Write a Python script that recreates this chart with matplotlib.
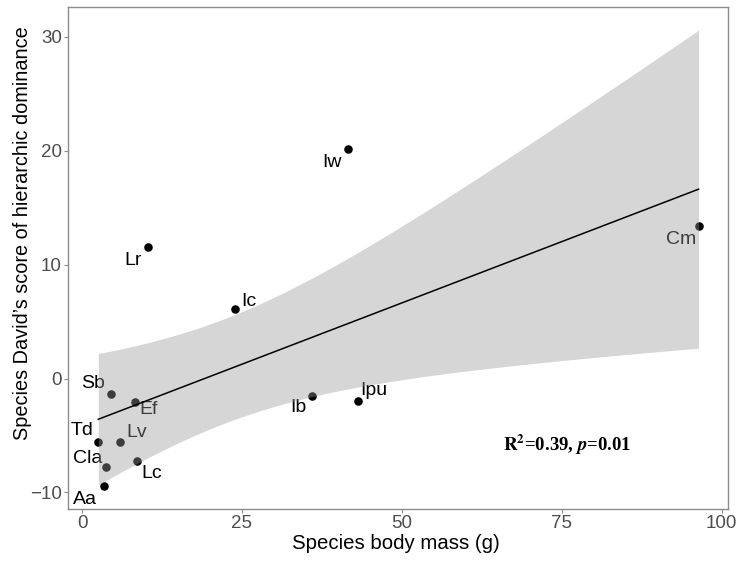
import numpy as np
import matplotlib
matplotlib.use("Agg")
import matplotlib.pyplot as plt

plt.rcParams["font.family"] = ["Liberation Sans", "DejaVu Sans"]

# DATA
species = ["Aa", "Cla", "Td", "Lv", "Lc", "Sb", "Ef", "Lr", "Ic", "Ib", "Ipu", "Iw", "Cm"]
body_mass = [3.5, 3.75, 2.55, 6.0, 8.6, 4.5, 8.3, 10.3, 23.97, 36.0, 43.1, 41.6, 96.4]
david_score = [-9.4, -7.8, -5.6, -5.6, -7.2, -1.4, -2.1, 11.5, 6.07, -1.5, -2.0, 20.1, 13.4]
x_ticks = [0, 25, 50, 75, 100]
y_ticks = [-10, 0, 10, 20, 30]
stat_label = r"$\mathbf{R^2}$=0.39, $\boldsymbol{p}$=0.01"

# label offsets in pixels (dx right, dy up), like ggrepel placed them
label_offsets = {
    "Aa": (-19, -14), "Cla": (-18, 9), "Td": (-16, 12), "Lv": (16, 10),
    "Lc": (15, -13), "Sb": (-18, 11), "Ef": (13, -7), "Lr": (-15, -13),
    "Ic": (13, 8), "Ib": (-14, -12), "Ipu": (16, 11), "Iw": (-16, -13),
    "Cm": (-17, -14),
}

# linear fit with 95% band (t, df = 11)
x = np.array(body_mass)
y = np.array(david_score)
n = len(x)
slope, intercept = np.polyfit(x, y, 1)
resid = y - (slope * x + intercept)
s = np.sqrt(np.sum(resid ** 2) / (n - 2))
sxx = np.sum((x - x.mean()) ** 2)
t_crit = 2.201
xs = np.linspace(x.min(), x.max(), 120)
fit = slope * xs + intercept
se = s * np.sqrt(1 / n + (xs - x.mean()) ** 2 / sxx)

fig = plt.figure(figsize=(7.36, 5.64), dpi=100)
ax = fig.add_axes([0.0924, 0.0975, 0.8967, 0.8901])

ax.scatter(x, y, s=38, color="black", zorder=2, linewidths=0)
px2pt = 0.72
for name, xi, yi in zip(species, body_mass, david_score):
    dx, dy = label_offsets[name]
    ax.annotate(name, (xi, yi), xytext=(dx * px2pt, dy * px2pt), textcoords="offset points",
                ha="center", va="center", fontsize=14, color="black", zorder=2)

ax.fill_between(xs, fit - t_crit * se, fit + t_crit * se, color="#999999", alpha=0.4,
                linewidth=0, zorder=3)
ax.plot(xs, fit, color="black", linewidth=1.1, zorder=4)

ax.text(0.7566, 0.1278, stat_label, transform=ax.transAxes, ha="center", va="center",
        fontsize=13.5, family="Liberation Serif", fontweight="bold",
        math_fontfamily="stix")

ax.set_xlim(-2.19, 101.0)
ax.set_ylim(-11.45, 32.6)
ax.set_xticks(x_ticks)
ax.set_yticks(y_ticks)
ax.tick_params(colors="#8C8C8C", labelcolor="#4D4D4D", labelsize=13.5, length=3, width=0.8, pad=1.5)
for sp in ax.spines.values():
    sp.set_color("#8C8C8C")
    sp.set_linewidth(1.0)

ax.set_xlabel("Species body mass (g)", fontsize=14.7)
ax.xaxis.set_label_coords(0.4965, -0.049)
ax.xaxis.label.set_va("top")
ax.set_ylabel("Species David\u2019s score of hierarchic dominance", fontsize=14.3)
ax.yaxis.set_label_coords(-0.069, 0.55)
ax.yaxis.label.set_va("center")

fig.savefig("out.png", dpi=100)
